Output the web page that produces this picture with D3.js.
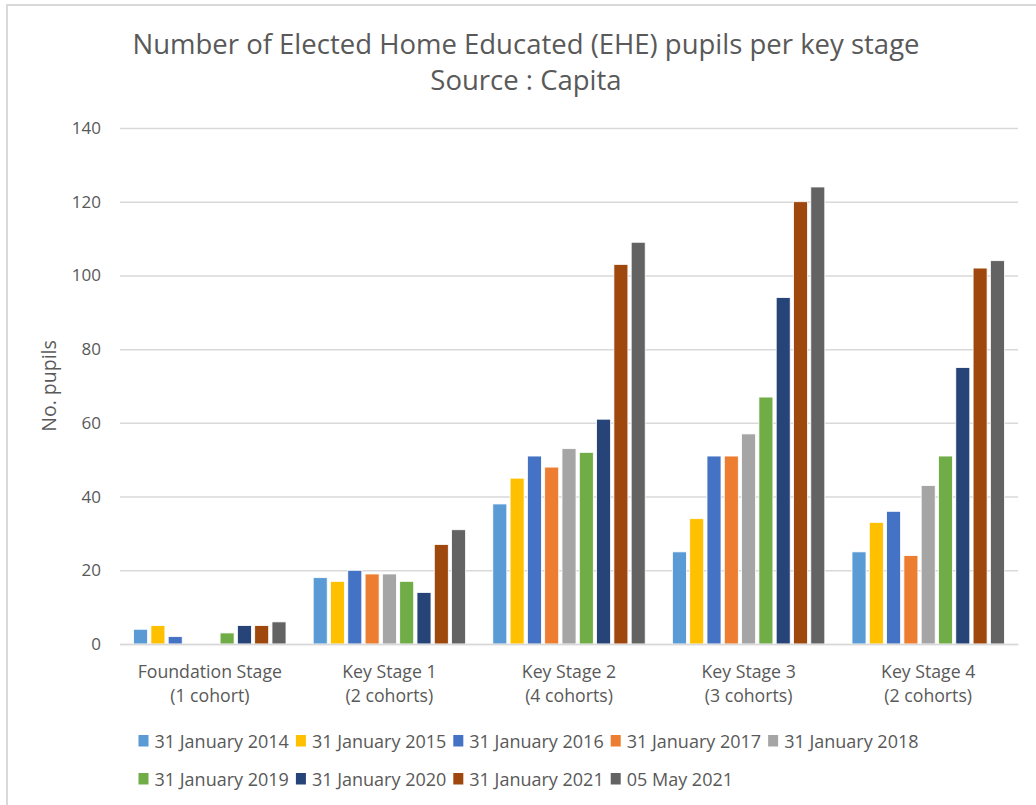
<!DOCTYPE html>
<html>
<head>
<meta charset="utf-8">
<script src="https://cdn.jsdelivr.net/npm/d3@7"></script>
<style>
  html, body { margin: 0; padding: 0; background: #fff; }
  svg { display: block; }
  text { font-family: "Open Sans", "Noto Sans", sans-serif; fill: #595959; }
</style>
</head>
<body>
<svg id="chart" width="1036" height="805"></svg>
<script>
// Key stages (two-line labels)
const categories = [
  ["Foundation Stage", "(1 cohort)"],
  ["Key Stage 1", "(2 cohorts)"],
  ["Key Stage 2", "(4 cohorts)"],
  ["Key Stage 3", "(3 cohorts)"],
  ["Key Stage 4", "(2 cohorts)"]
];

// Census dates (one series each)
const seriesNames = [
  "31 January 2014", "31 January 2015", "31 January 2016",
  "31 January 2017", "31 January 2018", "31 January 2019",
  "31 January 2020", "31 January 2021", "05 May 2021"
];

const seriesColors = [
  "#5B9BD5", "#FFC000", "#4472C4", "#ED7D31", "#A5A5A5",
  "#70AD47", "#264478", "#9E480E", "#636363"
];

// Pupils per key stage, one array per census date (same order as categories)
const jan2014 = [4, 18, 38, 25, 25];
const jan2015 = [5, 17, 45, 34, 33];
const jan2016 = [2, 20, 51, 51, 36];
const jan2017 = [0, 19, 48, 51, 24];
const jan2018 = [0, 19, 53, 57, 43];
const jan2019 = [3, 17, 52, 67, 51];
const jan2020 = [5, 14, 61, 94, 75];
const jan2021 = [5, 27, 103, 120, 102];
const may2021 = [6, 31, 109, 124, 104];
const seriesValues = [jan2014, jan2015, jan2016, jan2017, jan2018, jan2019, jan2020, jan2021, may2021];

const yTicks = [0, 20, 40, 60, 80, 100, 120, 140];

const titleLines = ["Number of Elected Home Educated (EHE) pupils per key stage", "Source : Capita"];
const yAxisTitle = "No. pupils";

const svg = d3.select("#chart");

// Chart frame
svg.append("rect")
  .attr("x", 7).attr("y", 5)
  .attr("width", 1100).attr("height", 900)
  .attr("fill", "#fff")
  .attr("stroke", "#d9d9d9").attr("stroke-width", 2);

const plot = { left: 120, right: 1018, top: 128, bottom: 644 };

const x0 = d3.scaleBand()
  .domain(d3.range(categories.length))
  .range([plot.left, plot.right])
  .paddingInner(0).paddingOuter(0);

const x1 = d3.scaleBand()
  .domain(d3.range(seriesNames.length))
  .range([13.6, x0.bandwidth() - 13.6])
  .paddingInner(0.19).paddingOuter(0);

const y = d3.scaleLinear().domain([0, 140]).range([plot.bottom, plot.top]);

// Title
svg.append("g").selectAll("text")
  .data(titleLines)
  .join("text")
  .attr("x", 526)
  .attr("y", (d, i) => 54 + i * 36)
  .attr("text-anchor", "middle")
  .style("font-size", "27.5px")
  .text(d => d);

// Gridlines
const yAxis = d3.axisLeft(y).tickValues(yTicks).tickSize(-(plot.right - plot.left)).tickPadding(19);
const yg = svg.append("g")
  .attr("transform", `translate(${plot.left},0)`)
  .call(yAxis);
yg.select(".domain").remove();
yg.selectAll(".tick line").attr("stroke", "#d9d9d9").attr("stroke-width", 1.5);
yg.selectAll(".tick text")
  .style("font-size", "17px")
  .attr("fill", "#595959")
  .attr("font-family", "Open Sans");

// Bars
const groups = svg.append("g").selectAll("g")
  .data(categories.map((c, ci) => ci))
  .join("g")
  .attr("transform", ci => `translate(${x0(ci)},0)`);

groups.selectAll("rect")
  .data(ci => seriesValues.map((vals, si) => ({ si, v: vals[ci] })))
  .join("rect")
  .attr("x", d => x1(d.si))
  .attr("width", x1.bandwidth())
  .attr("y", d => y(d.v))
  .attr("height", d => y(0) - y(d.v))
  .attr("fill", d => seriesColors[d.si])
  .attr("stroke", "#fff")
  .attr("stroke-width", d => d.v > 0 ? 0.8 : 0);

// Category axis
const xAxis = d3.axisBottom(x0).tickSize(0).tickFormat(() => "");
const xg = svg.append("g")
  .attr("transform", `translate(0,${plot.bottom})`)
  .call(xAxis);
xg.select(".domain").attr("stroke", "#d9d9d9").attr("stroke-width", 1.5);
xg.selectAll(".tick").each(function(ci) {
  const t = d3.select(this).select("text")
    .attr("y", 0).attr("dy", null)
    .style("font-size", "17.7px")
    .attr("fill", "#595959");
  t.selectAll("tspan")
    .data(categories[ci])
    .join("tspan")
    .attr("x", 0)
    .attr("y", (d, i) => 34 + i * 23.5)
    .text(d => d);
});

// Y axis title
svg.append("text")
  .attr("transform", "translate(56,386) rotate(-90)")
  .attr("text-anchor", "middle")
  .style("font-size", "19.5px")
  .text(yAxisTitle);

// Legend: two rows, left aligned
const legendRows = [[0, 1, 2, 3, 4], [5, 6, 7, 8]];
const legendX = 138.5;
const legendRowY = [741, 779];
const legend = svg.append("g");
legendRows.forEach((row, ri) => {
  let cx = legendX;
  row.forEach(si => {
    const item = legend.append("g").attr("transform", `translate(${cx},${legendRowY[ri]})`);
    item.append("rect")
      .attr("x", 0).attr("y", -6)
      .attr("width", 10).attr("height", 11.5)
      .attr("fill", seriesColors[si]);
    const t = item.append("text")
      .attr("x", 16).attr("y", 6.8)
      .style("font-size", "18px")
      .text(seriesNames[si]);
    cx += 16 + t.node().getComputedTextLength() + 7;
  });
});
</script>
</body>
</html>
